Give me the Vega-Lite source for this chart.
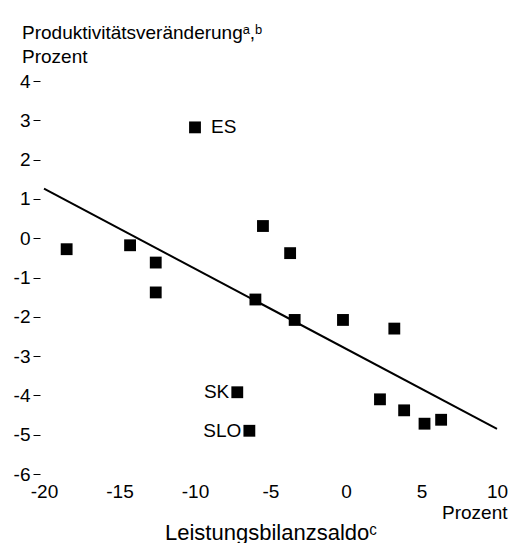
{
  "$schema": "https://vega.github.io/schema/vega-lite/v6.json",
  "autosize": "none",
  "width": 453,
  "height": 393,
  "padding": {"left": 44, "top": 81, "right": 15, "bottom": 69},
  "background": "white",
  "config": {
    "view": {"stroke": null},
    "font": "Liberation Sans",
    "axis": {"grid": false, "domain": false, "labelOverlap": false, "labelFlush": false, "labelFont": "Liberation Sans", "labelFontSize": 19, "labelColor": "black", "titleFont": "Liberation Sans", "titleColor": "black", "titleFontWeight": "normal", "titleFontSize": 19, "labelExpr": "'' + datum.value"}
  },
  "title": {
    "text": ["Produktivitätsveränderungᵃ,ᵇ", "Prozent"],
    "anchor": "start",
    "frame": "group",
    "dx": -22,
    "fontSize": 19,
    "fontWeight": "normal",
    "font": "Liberation Sans",
    "color": "black",
    "lineHeight": 24,
    "offset": 5
  },
  "datasets": {
    "pts": [
      {"x": -18.5, "y": -0.28, "label": ""},
      {"x": -14.3, "y": -0.18, "label": ""},
      {"x": -12.6, "y": -0.62, "label": ""},
      {"x": -12.6, "y": -1.38, "label": ""},
      {"x": -10.0, "y": 2.82, "label": "ES"},
      {"x": -5.5, "y": 0.31, "label": ""},
      {"x": -3.7, "y": -0.38, "label": ""},
      {"x": -6.0, "y": -1.56, "label": ""},
      {"x": -3.4, "y": -2.08, "label": ""},
      {"x": -0.2, "y": -2.08, "label": ""},
      {"x": 3.2, "y": -2.3, "label": ""},
      {"x": -7.2, "y": -3.92, "label": "SK"},
      {"x": -6.4, "y": -4.9, "label": "SLO"},
      {"x": 2.25, "y": -4.1, "label": ""},
      {"x": 3.85, "y": -4.38, "label": ""},
      {"x": 5.2, "y": -4.72, "label": ""},
      {"x": 6.3, "y": -4.62, "label": ""}
    ],
    "fit": [
      {"x": -20, "y": 1.26},
      {"x": 10, "y": -4.85}
    ]
  },
  "layer": [
    {
      "data": {"name": "fit"},
      "mark": {"type": "line", "color": "black", "strokeWidth": 2},
      "encoding": {
        "x": {"field": "x", "type": "quantitative", "scale": {"domain": [-20, 10], "nice": false, "zero": false},
          "axis": {"values": [-20, -15, -10, -5, 0, 5, 10], "labelOverlap": false, "labelFlush": false, "ticks": false, "labelPadding": 8, "title": "Leistungsbilanzsaldoᶜ", "titleFontSize": 22, "titleBaseline": "alphabetic", "titleY": 65}},
        "y": {"field": "y", "type": "quantitative", "scale": {"domain": [-6, 4], "nice": false, "zero": false},
          "axis": {"values": [-6, -5, -4, -3, -2, -1, 0, 1, 2, 3, 4], "labelOverlap": false, "labelFlush": false, "tickCount": 11, "tickSize": 7, "tickColor": "black", "offset": 4, "labelPadding": 3, "title": "Prozent", "titleAngle": 0, "titleAlign": "right", "titleBaseline": "alphabetic", "titleX": 467, "titleY": 437}}
      }
    },
    {
      "data": {"name": "pts"},
      "mark": {"type": "square", "color": "black", "filled": true, "opacity": 1, "size": 140},
      "encoding": {
        "x": {"field": "x", "type": "quantitative"},
        "y": {"field": "y", "type": "quantitative"}
      }
    },
    {
      "data": {"name": "pts"},
      "transform": [{"filter": "datum.label == 'ES'"}],
      "mark": {"type": "text", "align": "left", "baseline": "middle", "dx": 16, "fontSize": 19, "font": "Liberation Sans", "color": "black"},
      "encoding": {
        "x": {"field": "x", "type": "quantitative"},
        "y": {"field": "y", "type": "quantitative"},
        "text": {"field": "label"}
      }
    },
    {
      "data": {"name": "pts"},
      "transform": [{"filter": "datum.label == 'SK' || datum.label == 'SLO'"}],
      "mark": {"type": "text", "align": "right", "baseline": "middle", "dx": -8, "fontSize": 19, "font": "Liberation Sans", "color": "black"},
      "encoding": {
        "x": {"field": "x", "type": "quantitative"},
        "y": {"field": "y", "type": "quantitative"},
        "text": {"field": "label"}
      }
    }
  ]
}
